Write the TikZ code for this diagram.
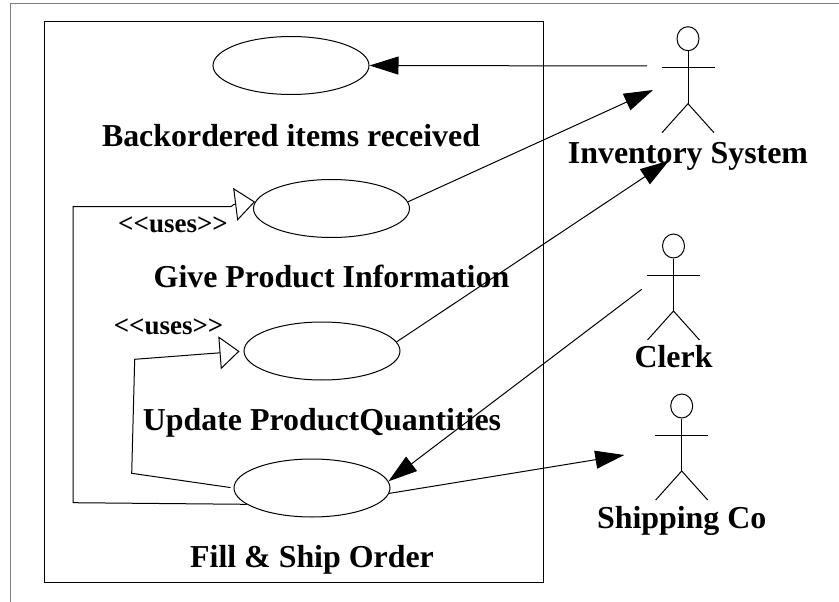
\documentclass[tikz,border=0pt]{standalone}
\usepackage{fontspec}
\setmainfont{Liberation Serif}
\usetikzlibrary{positioning,arrows.meta,shapes.geometric}

\begin{document}
\begin{tikzpicture}[
    x=1pt, y=-1pt,
    line width=1pt,
    usecase/.style={ellipse, draw, minimum width=156pt, minimum height=58pt, inner sep=0pt},
    caption/.style={font=\fontsize{31.9}{36}\selectfont\bfseries, inner sep=0pt, text height=22pt, text depth=7pt},
    stereo/.style={font=\fontsize{27}{30}\selectfont\bfseries, inner sep=0pt, anchor=base},
    arrow/.style={-{Triangle[length=29pt,width=18pt]}},
    generalize/.style={-{Triangle[open,length=20pt,width=33pt]}, line join=miter},
    pics/actor/.style={code={
        \node[ellipse, draw, minimum width=22pt, minimum height=24pt, inner sep=0pt] (-head) at (0,0) {};
        \coordinate (-hip) at (0,65);
        \coordinate (-feet) at (0,94);
        \draw (-head.south) -- (-hip);
        \draw (-26.5,29) -- (26.5,29);
        \draw (-26,94) -- (-hip) -- (26,94);
    }}
]
\useasboundingbox (0,0) rectangle (839,602);

% Page frame
\draw[gray] (10,602) -- (10,4) -- (839,4);

% System boundary
\node[draw, minimum width=499pt, minimum height=560.5pt, inner sep=0pt] (system) at (294,302.25) {};

% Use cases
\node[usecase] (received) at (291,65.5) {};
\node[usecase] (info) at (331.5,208.5) {};
\node[usecase] (update) at (322,351) {};
\node[usecase] (fill) at (312,488) {};

\node[caption, below=29pt of received] (receivedlabel) {Backordered items received};
\node[caption, below=26.5pt of info] (infolabel) {Give Product Information};
\node[caption, below=27.3pt of update] (updatelabel) {Update ProductQuantities};
\node[caption, below=27pt of fill] (filllabel) {Fill \& Ship Order};

% Actors
\pic (inventory) at (688,38.7) {actor};
\pic (clerk) at (673.5,246) {actor};
\pic (shipping) at (681.7,406) {actor};

\node[caption, below=8.8pt of inventory-feet] (inventorylabel) {Inventory System};
\node[caption, below=4.7pt of clerk-feet] (clerklabel) {Clerk};
\node[caption, below=5.8pt of shipping-feet] (shippinglabel) {Shipping Co};

% Stereotypes
\node[stereo] (usesinfo) at (173,232) {<{}<uses>{}>};
\node[stereo] (usesupdate) at (168.6,334.3) {<{}<uses>{}>};

% Free ends near the actors
\coordinate (inventoryout) at (647,66);
\coordinate (inventoryin) at (653,90);
\coordinate (inventoryinlow) at (669,160.7);
\coordinate (clerkout) at (641.7,289.3);
\coordinate (shippingin) at (624.3,455);

% Bends of the uses lines
\coordinate (infoleft) at (73,502.7);
\coordinate (infotop) at (73,206.7);
\coordinate (infobase) at (231,206.7);
\coordinate (infotip) at (233.7,204.5);
\coordinate (updateleft) at (131.7,473.3);
\coordinate (updatetop) at (134.7,359.3);

% Arrows
\draw[arrow] (inventoryout) -- (received.east);
\draw[arrow] (info.5) -- (inventoryin);
\draw[arrow] (update.7) -- (inventoryinlow);
\draw[arrow] (clerkout) -- (fill.5);
\draw[arrow] (fill.-4) -- (shippingin);
\draw[generalize] (fill.194) -- (infoleft) -- (infotop) -- (infobase) -- (infotip) -- (info.175);
\draw[generalize, shorten <=3pt, shorten >=4pt] (fill.west) -- (updateleft) -- (updatetop) -- (update.west);

\end{tikzpicture}
\end{document}
